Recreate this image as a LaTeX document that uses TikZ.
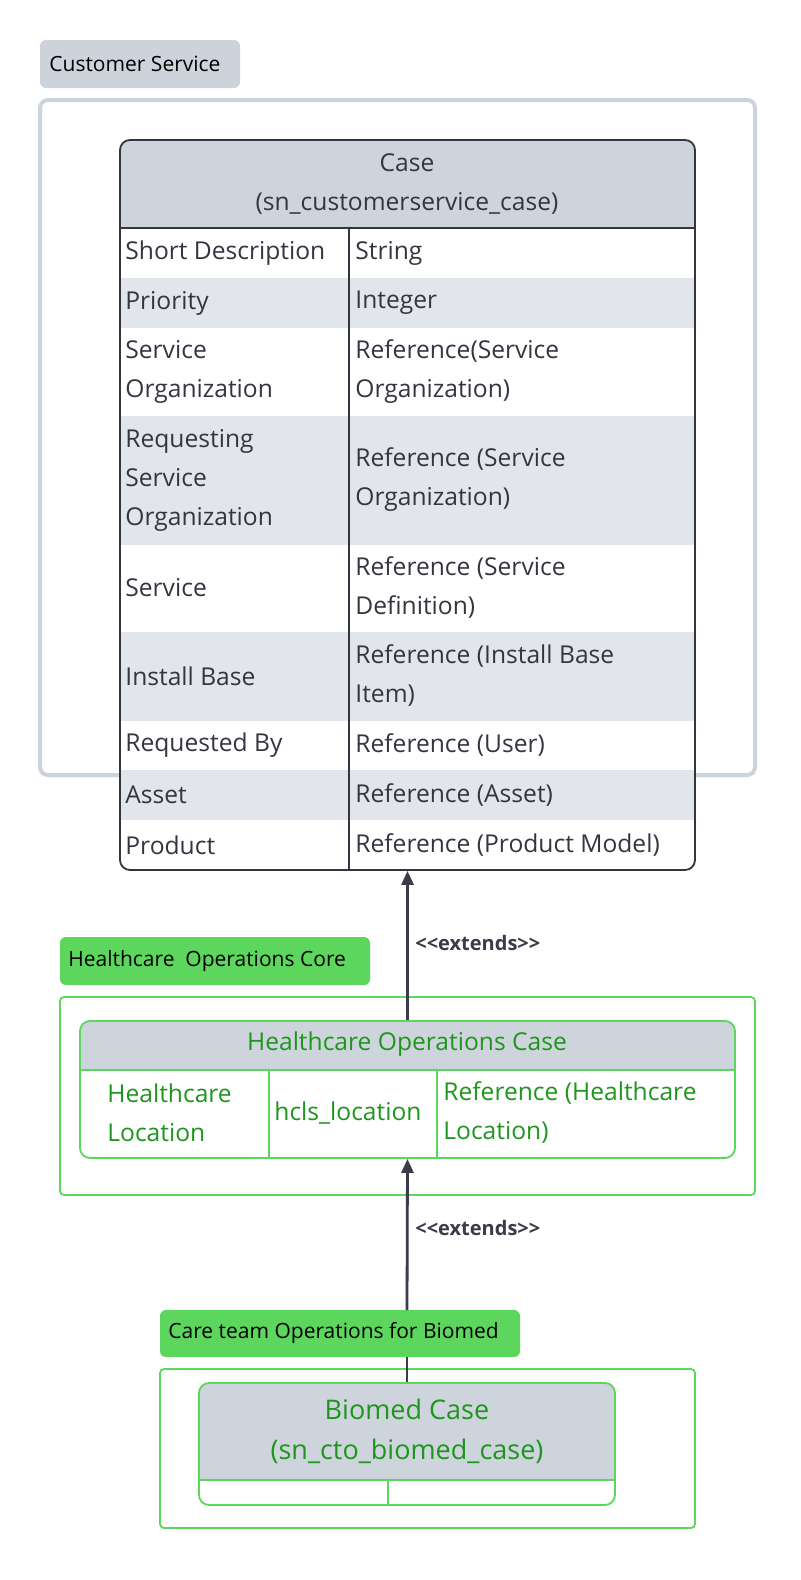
\documentclass[tikz,border=0pt]{standalone}
\usepackage{fontspec}
\setmainfont{Open Sans}
\usetikzlibrary{arrows.meta}
\definecolor{hdgray}{HTML}{CED4DB}
\definecolor{rowgray}{HTML}{E2E5EA}
\definecolor{framegray}{HTML}{CDD3DA}
\definecolor{txtdark}{HTML}{333640}
\definecolor{lblgreen}{HTML}{5CD65C}
\definecolor{boxgreen}{HTML}{5CD65C}
\definecolor{txtgreen}{HTML}{1E961E}
\definecolor{arrowgray}{HTML}{3A3D48}
\tikzset{
  pkglabel/.style={rounded corners=3pt,inner sep=0pt},
  pkgtext/.style={font=\fontsize{10.5}{12}\selectfont,anchor=west,inner sep=0pt},
  celltext/.style={font=\fontsize{12.3}{19.5}\selectfont,anchor=west,align=left,inner sep=0pt,text=txtdark},
  greentext/.style={celltext,text=txtgreen},
  tblframe/.style={draw=#1,rounded corners=5pt,line width=0.9pt,inner sep=0pt},
  extends/.style={font=\bfseries\fontsize{10}{11}\selectfont,anchor=west,inner sep=0pt,text=arrowgray}
}
\begin{document}
\begin{tikzpicture}[x=0.5pt,y=-0.5pt]
\useasboundingbox[fill=white] (0,0) rectangle (800,1580);
% customer service package
\fill[framegray,rounded corners=3pt] (40,40) rectangle (240,88);
\node[pkgtext] (cslbl) at (49,64) {Customer Service};
\draw[framegray,line width=2pt,rounded corners=4pt] (40,100) rectangle (755,775);
% case table
\begin{scope}
  \clip[rounded corners=5pt] (120,140) rectangle (695,870);
  \fill[white] (120,140) rectangle (695,870);
  \fill[hdgray] (120,140) rectangle (695,228);
  \foreach \ya/\yb in {278/328,416/545,632/721,770/820}
    \fill[rowgray] (120,\ya) rectangle (695,\yb);
\end{scope}
\draw[txtdark,line width=0.8pt] (120,228) -- (695,228) (349,228) -- (349,870);
\node[celltext,anchor=center,align=center] (casehd) at (407,184) {Case\\(sn\_customerservice\_case)};
\foreach \y/\ka/\kb in {
  253/{Short Description}/{String},
  303/{Priority}/{Integer},
  372/{Service\\Organization}/{Reference(Service\\Organization)},
  480/{Requesting\\Service\\Organization}/{Reference (Service\\Organization)},
  588/{Service}/{Reference (Service\\Definition)},
  676/{Install Base}/{Reference (Install Base\\Item)},
  745/{Requested By}/{Reference (User)},
  795/{Asset}/{Reference (Asset)},
  845/{Product}/{Reference (Product Model)}}
{
  \node[celltext] at (125,\y) {\ka};
  \node[celltext] at (355,\y) {\kb};
}
\node[tblframe=txtdark,minimum width=287.5pt,minimum height=365pt] (case) at (407.5,505) {};
% healthcare operations core
\fill[lblgreen,rounded corners=3pt] (60,937) rectangle (370,985);
\node[pkgtext] (hoclbl) at (68,961) {Healthcare\ \ Operations Core};
\draw[boxgreen,line width=0.9pt,rounded corners=2pt] (60,997) rectangle (755,1195);
\begin{scope}
  \clip[rounded corners=5pt] (80,1021) rectangle (735,1158);
  \fill[white] (80,1021) rectangle (735,1158);
  \fill[hdgray] (80,1021) rectangle (735,1070);
\end{scope}
\draw[boxgreen,line width=0.9pt] (80,1070) -- (735,1070) (269,1070) -- (269,1158) (437,1070) -- (437,1158);
\node[greentext,anchor=center] (hochd) at (407,1044) {Healthcare Operations Case};
\node[greentext] at (107,1113) {Healthcare\\Location};
\node[greentext] at (274,1113) {hcls\_location};
\node[greentext] at (443,1113) {Reference (Healthcare\\Location)};
\node[tblframe=boxgreen,minimum width=327.5pt,minimum height=68.5pt] (hoc) at (407.5,1089.5) {};
% care team operations for biomed
\fill[lblgreen,rounded corners=3pt] (160,1310) rectangle (520,1357);
\node[pkgtext] (ctlbl) at (168,1333) {Care team Operations for Biomed};
\coordinate (ctlbltop) at (407,1310);
\coordinate (ctlblbot) at (407,1357);
\draw[boxgreen,line width=0.9pt,rounded corners=2pt] (160,1369) rectangle (695,1528);
\begin{scope}
  \clip[rounded corners=5pt] (199,1383) rectangle (615,1505);
  \fill[white] (199,1383) rectangle (615,1505);
  \fill[hdgray] (199,1383) rectangle (615,1480);
\end{scope}
\draw[boxgreen,line width=0.9pt] (199,1480) -- (615,1480) (388,1480) -- (388,1505);
\node[greentext,anchor=center,align=center,font=\fontsize{13.5}{20}\selectfont] (biohd) at (407,1431) {Biomed Case\\(sn\_cto\_biomed\_case)};
\node[tblframe=boxgreen,minimum width=208pt,minimum height=61pt] (biomed) at (407,1444) {};
% connectors
\draw[arrowgray,line width=1.4pt,-{Triangle[length=7pt,width=6pt]}] (hoc.north) -- (case.south);
\node[extends] (ext1) at (415,943) {<{}<extends>{}>};
\draw[arrowgray,line width=1.4pt,-{Triangle[length=7pt,width=6pt]}] (ctlbltop) -- (hoc.south);
\node[extends] (ext2) at (415,1228) {<{}<extends>{}>};
\draw[arrowgray,line width=1.4pt] (ctlblbot) -- (biomed.north -| ctlblbot);
\end{tikzpicture}
\end{document}
